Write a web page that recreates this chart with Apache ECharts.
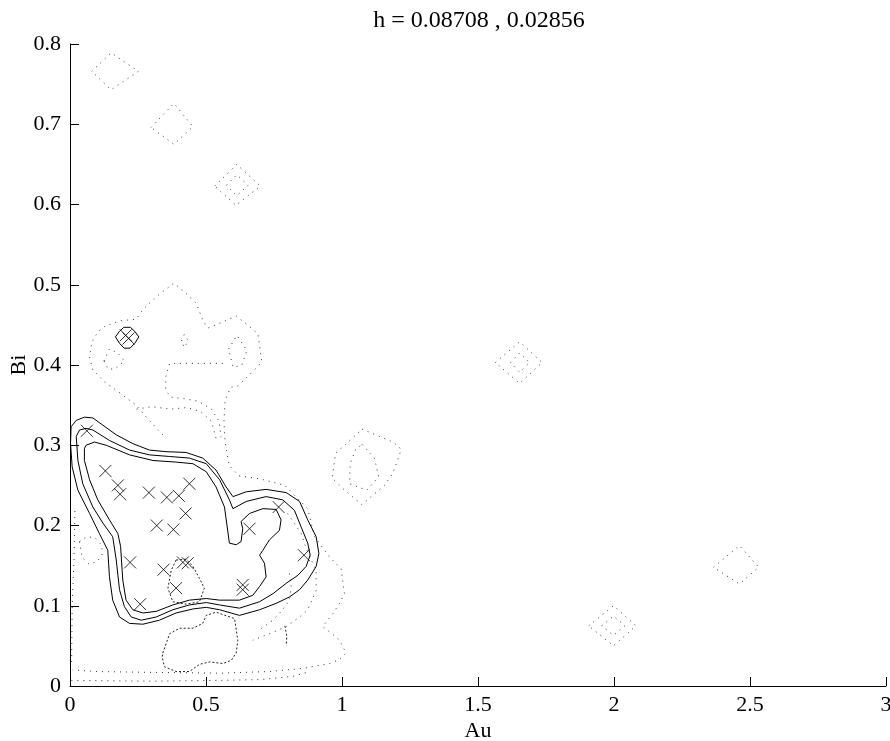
<!DOCTYPE html>
<html>
<head>
<meta charset="utf-8">
<script src="https://cdn.jsdelivr.net/npm/echarts@6/dist/echarts.min.js"></script>
<style>
html,body{margin:0;padding:0;background:#fff;}
#chart{width:890px;height:741px;}
</style>
</head>
<body>
<div id="chart"></div>
<script>
// ---------- data ----------
const titleText = 'h = 0.08708 , 0.02856';
const xTicks = [0, 0.5, 1, 1.5, 2, 2.5, 3];
const yTicks = [0, 0.1, 0.2, 0.3, 0.4, 0.5, 0.6, 0.7, 0.8];

// sample points (x markers)
const auVals = [0.062,0.130,0.176,0.184,0.290,0.356,0.400,0.439,0.425,0.319,0.380,0.221,0.344,0.415,0.433,0.390,0.258,0.635,0.635,0.660,0.767,0.860,0.205,0.215];
const biVals = [0.318,0.268,0.250,0.239,0.241,0.235,0.237,0.252,0.215,0.200,0.195,0.154,0.145,0.154,0.153,0.122,0.102,0.126,0.120,0.196,0.223,0.163,0.437,0.433];

// solid density contours (closed)
const solidOuter = [[0.004,0.323],[0.023,0.331],[0.053,0.335],[0.084,0.334],[0.121,0.325],[0.170,0.313],[0.231,0.302],[0.292,0.294],[0.353,0.292],[0.427,0.291],[0.488,0.284],[0.537,0.269],[0.574,0.248],[0.599,0.236],[0.648,0.242],[0.721,0.245],[0.795,0.241],[0.844,0.230],[0.874,0.207],[0.905,0.186],[0.915,0.165],[0.905,0.149],[0.874,0.132],[0.844,0.120],[0.807,0.111],[0.758,0.103],[0.697,0.095],[0.623,0.088],[0.550,0.095],[0.501,0.098],[0.452,0.096],[0.390,0.091],[0.329,0.082],[0.268,0.077],[0.219,0.078],[0.182,0.086],[0.157,0.107],[0.145,0.136],[0.139,0.169],[0.108,0.190],[0.072,0.215],[0.029,0.244],[0.008,0.273],[0.002,0.302]];
const solidMiddle = [[0.023,0.311],[0.035,0.319],[0.059,0.321],[0.084,0.319],[0.145,0.306],[0.219,0.294],[0.292,0.288],[0.366,0.286],[0.439,0.284],[0.501,0.277],[0.550,0.257],[0.586,0.232],[0.599,0.221],[0.648,0.230],[0.721,0.236],[0.782,0.232],[0.825,0.219],[0.850,0.198],[0.874,0.178],[0.883,0.163],[0.868,0.149],[0.838,0.138],[0.795,0.128],[0.746,0.115],[0.697,0.105],[0.623,0.097],[0.550,0.101],[0.501,0.104],[0.439,0.101],[0.378,0.095],[0.317,0.086],[0.262,0.082],[0.225,0.086],[0.200,0.099],[0.182,0.120],[0.170,0.157],[0.157,0.186],[0.121,0.203],[0.084,0.223],[0.047,0.252],[0.029,0.281]];
const solidInner = [[0.053,0.296],[0.059,0.300],[0.090,0.304],[0.133,0.300],[0.219,0.288],[0.305,0.281],[0.390,0.279],[0.452,0.277],[0.501,0.267],[0.537,0.248],[0.568,0.223],[0.586,0.178],[0.611,0.176],[0.629,0.180],[0.635,0.196],[0.629,0.205],[0.660,0.215],[0.709,0.221],[0.758,0.220],[0.776,0.207],[0.770,0.194],[0.733,0.182],[0.709,0.169],[0.697,0.163],[0.715,0.153],[0.721,0.136],[0.697,0.124],[0.672,0.113],[0.623,0.107],[0.550,0.107],[0.501,0.109],[0.439,0.107],[0.378,0.101],[0.317,0.093],[0.268,0.091],[0.231,0.095],[0.206,0.107],[0.194,0.132],[0.186,0.174],[0.176,0.190],[0.145,0.207],[0.102,0.232],[0.072,0.257],[0.053,0.281]];
const solidSmall = [[0.167,0.435],[0.182,0.442],[0.198,0.447],[0.222,0.447],[0.238,0.442],[0.253,0.435],[0.238,0.427],[0.221,0.421],[0.199,0.421],[0.182,0.427]];

// dotted contours (closed)
const dotA = [[0.080,0.766],[0.151,0.789],[0.252,0.766],[0.151,0.743]];
const dotB = [[0.298,0.696],[0.382,0.726],[0.452,0.697],[0.382,0.675]];
const dotC = [[0.532,0.623],[0.613,0.650],[0.700,0.623],[0.610,0.599]];
const dotCin = [[0.575,0.624],[0.613,0.637],[0.655,0.624],[0.613,0.611]];
const dotD = [[1.564,0.403],[1.653,0.429],[1.736,0.403],[1.653,0.377]];
const dotDin = [[1.620,0.403],[1.653,0.415],[1.690,0.403],[1.653,0.391]];
const dotE = [[1.074,0.320],[1.187,0.304],[1.218,0.295],[1.187,0.265],[1.156,0.250],[1.073,0.226],[1.003,0.246],[0.964,0.259],[0.976,0.290],[1.013,0.301]];
const dotEin = [[1.074,0.301],[1.119,0.284],[1.135,0.261],[1.091,0.244],[1.028,0.252],[1.030,0.277],[1.050,0.295]];
const dotF = [[2.366,0.148],[2.461,0.175],[2.532,0.148],[2.461,0.127]];
const dotG = [[1.907,0.075],[1.998,0.100],[2.081,0.075],[1.998,0.050]];
const dotGin = [[1.955,0.075],[1.998,0.087],[2.040,0.075],[1.998,0.063]];
const dotBlobIn = [[0.583,0.420],[0.614,0.437],[0.650,0.418],[0.632,0.400],[0.600,0.397]];
const dotLobeIn = [[0.125,0.405],[0.145,0.420],[0.175,0.415],[0.200,0.405],[0.165,0.395],[0.140,0.395]];
const dotTiny = [[0.410,0.430],[0.420,0.438],[0.435,0.430],[0.420,0.422]];
const dotLeftBlob = [[0.035,0.180],[0.060,0.186],[0.090,0.185],[0.115,0.176],[0.120,0.165],[0.100,0.155],[0.070,0.152],[0.045,0.160]];

// dotted contours (open)
const dotEnvelope = [[0.341,0.313],[0.286,0.333],[0.243,0.350],[0.176,0.367],[0.127,0.379],[0.084,0.394],[0.072,0.410],[0.080,0.428],[0.102,0.441],[0.127,0.448],[0.182,0.455],[0.243,0.457],[0.268,0.469],[0.317,0.485],[0.382,0.502],[0.427,0.489],[0.464,0.477],[0.488,0.456],[0.507,0.446],[0.550,0.452],[0.611,0.461],[0.660,0.448],[0.691,0.439],[0.705,0.404],[0.684,0.396],[0.642,0.382],[0.617,0.374],[0.590,0.372],[0.570,0.355],[0.566,0.330],[0.570,0.305],[0.585,0.275],[0.620,0.262],[0.700,0.258],[0.790,0.250],[0.874,0.221],[0.899,0.186],[0.954,0.161],[0.997,0.146],[1.009,0.115],[0.991,0.103],[0.966,0.090],[0.929,0.074],[0.960,0.066],[0.991,0.057],[1.015,0.041],[0.991,0.033],[0.954,0.028],[0.856,0.022],[0.733,0.018],[0.550,0.016],[0.300,0.017],[0.100,0.018],[0.010,0.020]];
const dotInner1 = [[0.562,0.402],[0.440,0.402],[0.366,0.402],[0.352,0.385],[0.352,0.368],[0.372,0.360],[0.420,0.358],[0.470,0.355],[0.520,0.345],[0.548,0.330],[0.555,0.310]];
const dotInner2 = [[0.245,0.345],[0.300,0.348],[0.370,0.345],[0.430,0.347],[0.480,0.342],[0.520,0.330],[0.540,0.305]];
const dotRight1 = [[0.800,0.215],[0.850,0.190],[0.870,0.170],[0.905,0.144],[0.905,0.119],[0.874,0.095],[0.844,0.086],[0.795,0.074],[0.733,0.065],[0.672,0.057]];
const dotRight2 = [[0.807,0.140],[0.813,0.124],[0.807,0.107],[0.782,0.095],[0.746,0.082],[0.697,0.070]];
const dotBottom = [[0.005,0.007],[0.300,0.006],[0.550,0.007],[0.700,0.008],[0.820,0.012],[0.880,0.018]];
const dotLeftEdge = [[0.006,0.030],[0.008,0.100],[0.015,0.160],[0.018,0.220]];

// dashed contours
const dashBottom = [[0.341,0.041],[0.366,0.065],[0.403,0.072],[0.452,0.072],[0.488,0.078],[0.501,0.088],[0.537,0.092],[0.605,0.084],[0.617,0.057],[0.611,0.041],[0.593,0.032],[0.562,0.028],[0.513,0.030],[0.476,0.027],[0.439,0.018],[0.390,0.018],[0.347,0.024],[0.339,0.036]];
const dashSmall = [[0.390,0.157],[0.372,0.144],[0.360,0.122],[0.378,0.105],[0.427,0.102],[0.476,0.105],[0.494,0.122],[0.476,0.134],[0.452,0.149],[0.427,0.158]];
const dashArc = [[0.790,0.075],[0.797,0.062],[0.795,0.050]];

// ---------- build ----------
const closeRing = a => a.concat([a[0]]);
const FONT = 'Liberation Serif';
const series = [];
function addLine(data, type, closed) {
  series.push({
    type: 'line',
    data: closed ? closeRing(data) : data,
    showSymbol: false,
    symbol: 'none',
    silent: true,
    animation: false,
    clip: true,
    lineStyle: {
      color: type === 'solid' ? '#000' : (type === 'dash' ? '#222' : '#333'),
      width: 1,
      type: type === 'solid' ? 'solid' : (type === 'dash' ? [2, 2] : [1, 5])
    },
    z: type === 'solid' ? 4 : 3
  });
}
[solidOuter, solidMiddle, solidInner, solidSmall].forEach(d => addLine(d, 'solid', true));
[dotA, dotB, dotC, dotCin, dotD, dotDin, dotE, dotEin, dotF, dotG, dotGin, dotBlobIn, dotLobeIn, dotTiny, dotLeftBlob].forEach(d => addLine(d, 'dot', true));
[dotEnvelope, dotInner1, dotInner2, dotRight1, dotRight2, dotBottom, dotLeftEdge].forEach(d => addLine(d, 'dot', false));
addLine(dashBottom, 'dash', true);
addLine(dashSmall, 'dash', true);
addLine(dashArc, 'dash', false);

series.push({
  type: 'scatter',
  data: auVals.map((v, i) => [v, biVals[i]]),
  symbol: 'path://M0,0L10,10M10,0L0,10',
  symbolSize: 12,
  itemStyle: { color: 'none', borderColor: '#000', borderWidth: 1 },
  silent: true,
  animation: false,
  z: 5
});

const chart = echarts.init(document.getElementById('chart'), null, { renderer: 'canvas' });
chart.setOption({
  backgroundColor: '#fff',
  animation: false,
  title: {
    text: titleText,
    left: 474, top: 4, textAlign: 'center',
    textStyle: { fontFamily: FONT, fontSize: 24, fontWeight: 'normal', color: '#000' }
  },
  grid: { left: 70, right: 4, top: 44, bottom: 55, containLabel: false, outerBoundsMode: 'none' },
  xAxis: {
    type: 'value', min: xTicks[0], max: xTicks[xTicks.length - 1], interval: xTicks[1] - xTicks[0],
    name: 'Au', nameLocation: 'middle', nameGap: 34, nameMoveOverlap: false,
    nameTextStyle: { fontFamily: FONT, fontSize: 22, color: '#000' },
    axisLine: { lineStyle: { color: '#000', width: 1 } },
    axisTick: { inside: true, length: 9, lineStyle: { color: '#000' } },
    axisLabel: { fontFamily: FONT, fontSize: 22, color: '#000', margin: 8,
      formatter: v => String(Math.round(v * 10) / 10) },
    splitLine: { show: false }
  },
  yAxis: {
    type: 'value', min: yTicks[0], max: yTicks[yTicks.length - 1], interval: 0.1,
    name: 'Bi', nameLocation: 'middle', nameGap: 40, nameMoveOverlap: false,
    nameTextStyle: { fontFamily: FONT, fontSize: 22, color: '#000' },
    axisLine: { show: true, lineStyle: { color: '#000', width: 1 } },
    axisTick: { show: true, inside: true, length: 9, lineStyle: { color: '#000' } },
    axisLabel: { fontFamily: FONT, fontSize: 22, color: '#000', margin: 9,
      formatter: v => String(Math.round(v * 10) / 10) },
    splitLine: { show: false }
  },
  series: series
});
</script>
</body>
</html>
